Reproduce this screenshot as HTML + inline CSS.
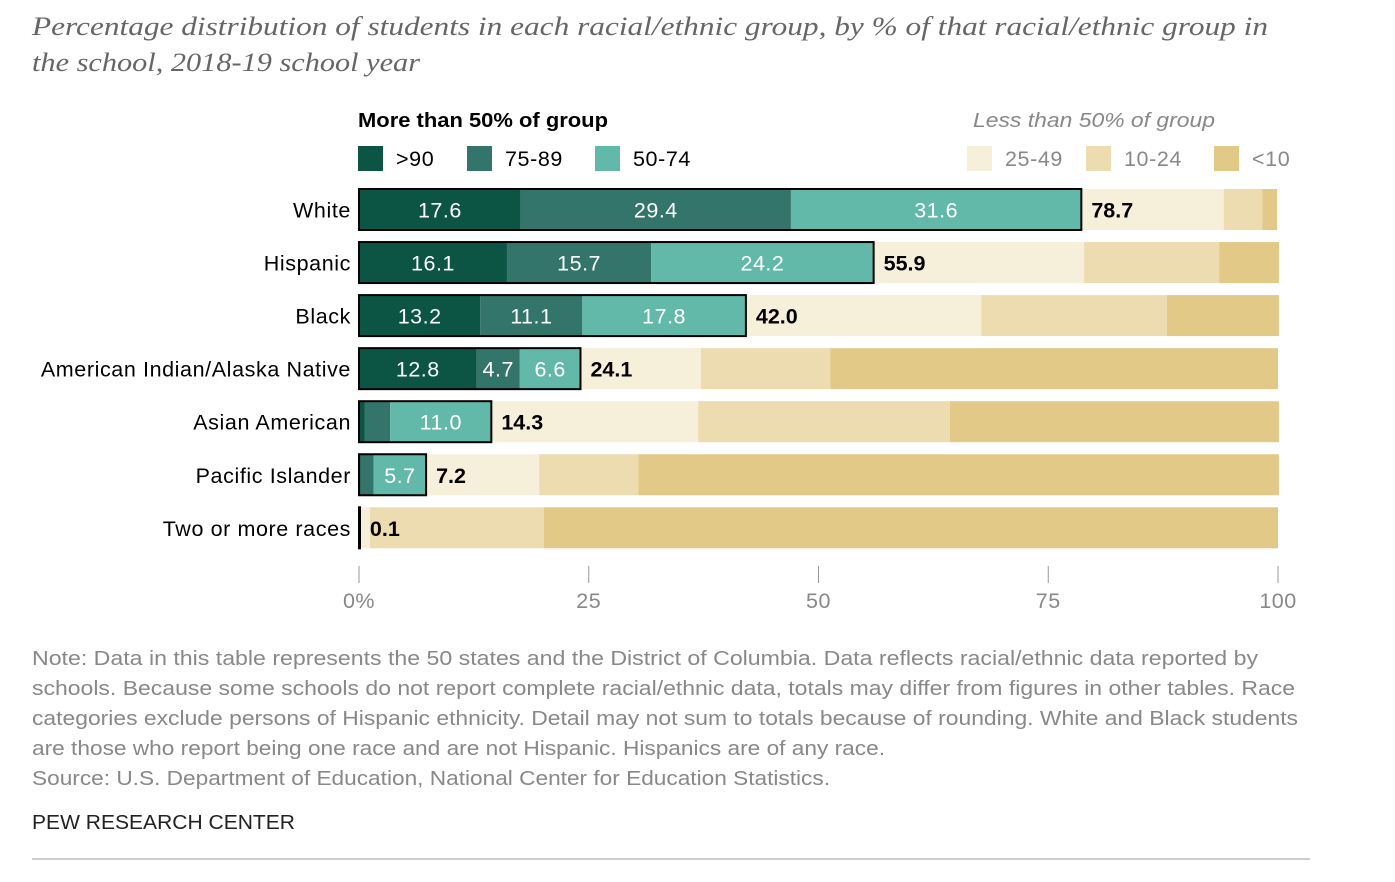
<!DOCTYPE html>
<html><head><meta charset="utf-8"><style>
body{margin:0;background:#fff;width:1395px;height:877px;overflow:hidden;font-family:"Liberation Sans",sans-serif;}
</style></head><body>
<svg id="chart" width="1395" height="877" font-family="Liberation Sans, sans-serif">
<g style="font-family:'Liberation Serif',serif;font-style:italic;font-size:26px;fill:#666">
<text x="32" y="35" textLength="1236" lengthAdjust="spacingAndGlyphs">Percentage distribution of students in each racial/ethnic group, by % of that racial/ethnic group in</text>
<text x="32" y="71" textLength="388" lengthAdjust="spacingAndGlyphs">the school, 2018-19 school year</text>
</g>
<text x="358" y="127" font-size="20" font-weight="bold" fill="#000" textLength="250" lengthAdjust="spacingAndGlyphs">More than 50% of group</text>
<text x="973" y="127" font-size="20" font-style="italic" fill="#888" textLength="242" lengthAdjust="spacingAndGlyphs">Less than 50% of group</text>
<g id="legend"></g>
<g id="bars"></g>
<g id="axis"></g>
<g font-size="20" fill="#888">
<text x="32" y="665" textLength="1226" lengthAdjust="spacingAndGlyphs">Note: Data in this table represents the 50 states and the District of Columbia. Data reflects racial/ethnic data reported by</text>
<text x="32" y="695" textLength="1263" lengthAdjust="spacingAndGlyphs">schools. Because some schools do not report complete racial/ethnic data, totals may differ from figures in other tables. Race</text>
<text x="32" y="725" textLength="1266" lengthAdjust="spacingAndGlyphs">categories exclude persons of Hispanic ethnicity. Detail may not sum to totals because of rounding. White and Black students</text>
<text x="32" y="755" textLength="853" lengthAdjust="spacingAndGlyphs">are those who report being one race and are not Hispanic. Hispanics are of any race.</text>
<text x="32" y="785" textLength="798" lengthAdjust="spacingAndGlyphs">Source: U.S. Department of Education, National Center for Education Statistics.</text>
</g>
<text x="32" y="829" font-size="20" fill="#222" textLength="263" lengthAdjust="spacingAndGlyphs">PEW RESEARCH CENTER</text>
<line x1="32" y1="859" x2="1310" y2="859" stroke="#999" stroke-width="1"/>
</svg>
<script>
const categories=["White","Hispanic","Black","American Indian/Alaska Native","Asian American","Pacific Islander","Two or more races"];
const seriesNames=[">90","75-89","50-74","25-49","10-24","<10"];
const s90=[17.6,16.1,13.2,12.8,0.6,0.2,0.05];
const s75=[29.4,15.7,11.1,4.7,2.8,1.4,0.03];
const s50=[31.6,24.2,17.8,6.6,11.0,5.7,0.02];
const s25=[15.5,22.9,25.6,13.1,22.5,12.3,1.1];
const s10=[4.2,14.7,20.2,14.1,27.4,10.8,18.9];
const sLt=[1.6,6.5,12.2,48.7,35.8,69.7,79.9];
const totals=["78.7","55.9","42.0","24.1","14.3","7.2","0.1"];
const ticks=[0,25,50,75,100];
const tickLabels=["0%","25","50","75","100"];
const colors=["#0c5545","#33756a","#62b9a9","#f6efda","#eddcb0","#e2c987"];
const NS="http://www.w3.org/2000/svg";
const x=v=>359+v*9.19;
const y=i=>189+i*53.05;
const H=41;
function mk(t,a,p){const e=document.createElementNS(NS,t);for(const k in a)e.setAttribute(k,a[k]);p.appendChild(e);return e;}
const series=[s90,s75,s50,s25,s10,sLt];
const bars=document.getElementById('bars');
categories.forEach((c,i)=>{
  const lab=mk('text',{x:351,y:y(i)+H/2+8,'text-anchor':'end','font-size':21.5,fill:'#000','letter-spacing':'0.6'},bars);
  lab.textContent=c;
  
  
  let cum=0;
  series.forEach((s,j)=>{
    const r=mk('rect',{x:x(cum),y:y(i),width:x(cum+s[i])-x(cum),height:H,fill:colors[j]},bars);
    
    
    if(j<3 && s[i]>=4){
      const t=mk('text',{x:(x(cum)+x(cum+s[i]))/2,y:y(i)+H/2+8,'text-anchor':'middle','font-size':21.5,fill:'#fff','letter-spacing':'0.5'},bars);
      t.textContent=s[i].toFixed(1);
      
      
    }
    cum+=s[i];
  });
  const tot=s90[i]+s75[i]+s50[i];
  const o=mk('rect',{x:x(0),y:y(i),width:Math.max(x(tot)-x(0),1),height:H,fill:'none',stroke:'#000','stroke-width':2},bars);
  
  
  const tt=mk('text',{x:x(tot)+10,y:y(i)+H/2+8,'font-size':21.5,'font-weight':'bold',fill:'#000'},bars);
  tt.textContent=totals[i];
  
  
});
const ax=document.getElementById('axis');
ticks.forEach((t,k)=>{
  const l=mk('line',{x1:x(t),x2:x(t),y1:566,y2:583,stroke:'#999','stroke-width':1},ax);
  
  
  const tx=mk('text',{x:x(t),y:608,'text-anchor':'middle','font-size':21.5,fill:'#888','letter-spacing':'0.5'},ax);
  tx.textContent=tickLabels[k];
  
  
});
const lg=document.getElementById('legend');
const lx=[358,467,595,967,1086,1214];
seriesNames.forEach((n,j)=>{
  const r=mk('rect',{x:lx[j],y:146,width:25,height:25,fill:colors[j]},lg);
  
  
  const t=mk('text',{x:lx[j]+38,y:166,'font-size':21.5,fill:j<3?'#000':'#888','letter-spacing':'0.6'},lg);
  t.textContent=n;
  
  
});
</script>
</body></html>
